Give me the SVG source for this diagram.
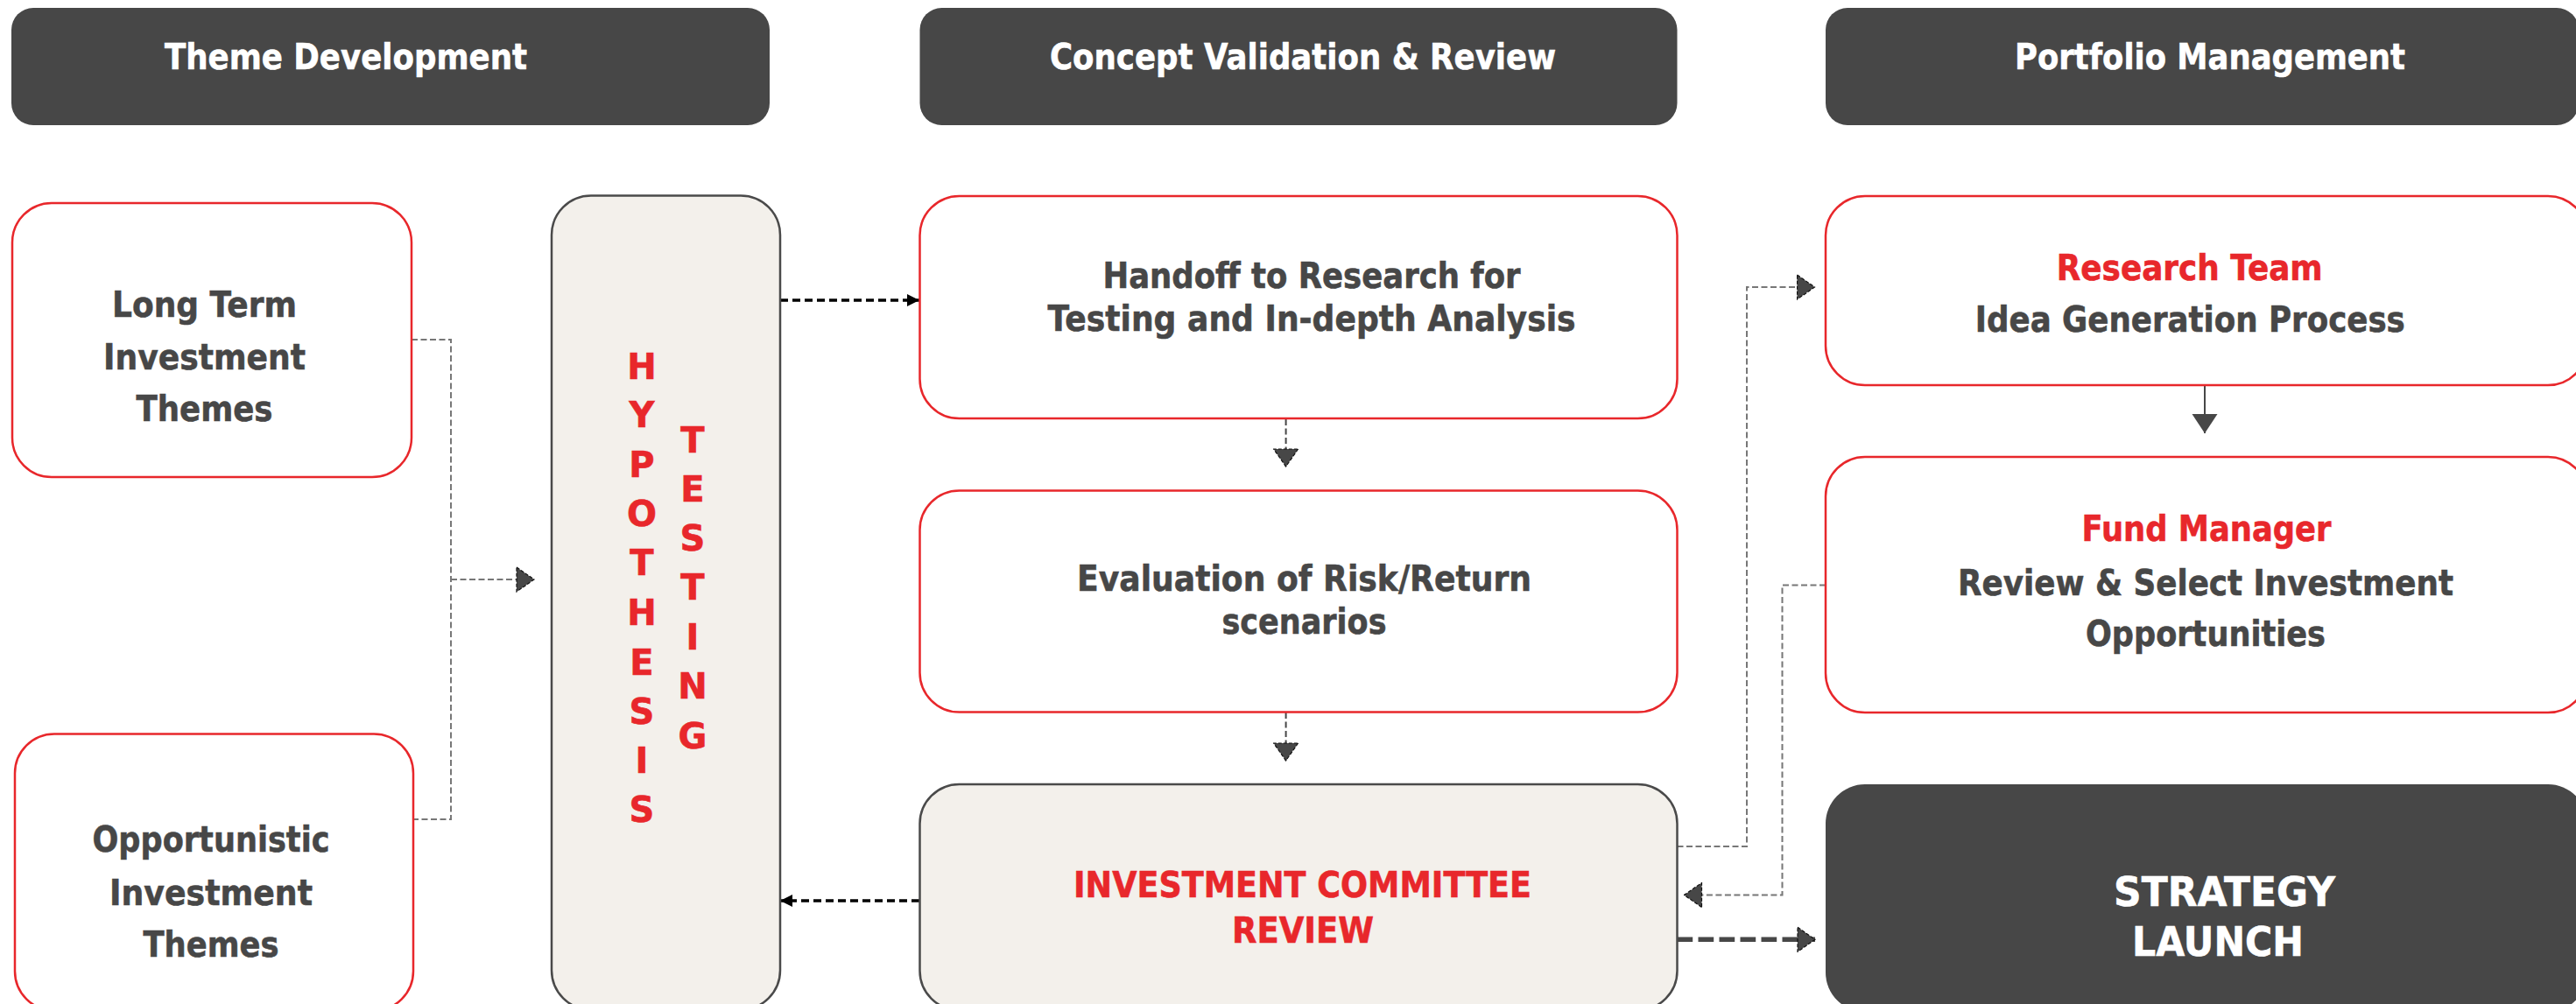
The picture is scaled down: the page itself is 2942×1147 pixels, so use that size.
<svg xmlns="http://www.w3.org/2000/svg" width="2942" height="1147" viewBox="0 0 2942 1147">
<style>
  .hdr { fill: #474747; }
  .hdrt { fill: #ffffff; stroke: #ffffff; stroke-width: 0.6; font-family: "DejaVu Sans", Verdana, sans-serif; font-weight: bold; font-size: 41px; }
  .rbox { fill: #ffffff; stroke: #E8272B; stroke-width: 2.5; }
  .pbox { fill: #F3F0EB; stroke: #4a4a4a; stroke-width: 2.5; }
  .dbox { fill: #474747; }
  .t { fill: #474747; stroke: #474747; stroke-width: 0.6; font-family: "DejaVu Sans", Verdana, sans-serif; font-weight: bold; font-size: 40px; text-anchor: middle; }
  .r { fill: #E8272B; stroke: #E8272B; }
  .w { fill: #ffffff; stroke: #ffffff; }
  .big { font-size: 47px; }
  .ltr { fill: #E8272B; stroke: #E8272B; stroke-width: 0.6; font-family: "DejaVu Sans", Verdana, sans-serif; font-weight: bold; font-size: 40px; text-anchor: middle; }
  .thin { fill: none; stroke: #777777; stroke-width: 2; stroke-dasharray: 7 3.5; }
  .blk { fill: none; stroke: #000000; stroke-width: 3.5; stroke-dasharray: 9 5; }
  .vd { fill: none; stroke: #474747; stroke-width: 2; stroke-dasharray: 7 3.5; }
  .solid { fill: none; stroke: #474747; stroke-width: 2; }
  .thick { fill: none; stroke: #474747; stroke-width: 5.5; stroke-dasharray: 17.7 6.3; }
</style>
<defs>
  <marker id="ahL" markerUnits="userSpaceOnUse" viewBox="0 0 22 30" refX="21" refY="15" markerWidth="22" markerHeight="30" orient="auto">
    <polygon points="1,1 21,15 1,29" fill="#474747" stroke="#111111" stroke-width="1.2" stroke-dasharray="4 2"/>
  </marker>
  <marker id="ahS" markerUnits="userSpaceOnUse" viewBox="0 0 16 16" refX="15" refY="8" markerWidth="16" markerHeight="16" orient="auto">
    <polygon points="1,1 15,8 1,15" fill="#000000"/>
  </marker>
  <marker id="ahD" markerUnits="userSpaceOnUse" viewBox="0 0 30 30" refX="22" refY="15" markerWidth="30" markerHeight="30" orient="auto">
    <polygon points="0,0.5 22,15 0,29.5" fill="#474747"/>
  </marker>
</defs>

<g id="header-theme">
  <rect class="hdr" x="13" y="9" width="866" height="134" rx="25"/>
  <text class="hdrt" x="395" y="79" text-anchor="middle" textLength="414" lengthAdjust="spacingAndGlyphs">Theme Development</text>
</g>
<g id="header-concept">
  <rect class="hdr" x="1050.5" y="9" width="865" height="134" rx="25"/>
  <text class="hdrt" x="1488" y="79" text-anchor="middle" textLength="578" lengthAdjust="spacingAndGlyphs">Concept Validation &amp; Review</text>
</g>
<g id="header-portfolio">
  <rect class="hdr" x="2085" y="9" width="860" height="134" rx="25"/>
  <text class="hdrt" x="2524" y="79" text-anchor="middle" textLength="446" lengthAdjust="spacingAndGlyphs">Portfolio Management</text>
</g>

<g id="connectors">
  <path class="thin" d="M470 388 H515 V936 H472"/>
  <path class="thin" d="M515 662 H610" marker-end="url(#ahL)"/>
  <path class="blk" d="M891 343 H1050" marker-end="url(#ahS)"/>
  <path class="vd" d="M1468.6 479 V533" marker-end="url(#ahL)"/>
  <path class="vd" d="M1468.6 814 V869" marker-end="url(#ahL)"/>
  <path class="blk" d="M1050 1029 H891" marker-end="url(#ahS)"/>
  <path class="thin" d="M1915.5 967 H1995 V328 H2072.5" marker-end="url(#ahL)"/>
  <path class="solid" d="M2518 440 V495" marker-end="url(#ahD)"/>
  <path class="thin" d="M2085 668.6 H2035.5 V1022.5 H1923.5" marker-end="url(#ahL)"/>
  <path class="thick" d="M1915.5 1073.3 H2073" marker-end="url(#ahL)"/>
</g>

<g id="long-term">
  <rect class="rbox" x="14" y="232" width="456" height="313" rx="45"/>
  <text class="t" x="233.5" y="362" textLength="211" lengthAdjust="spacingAndGlyphs">Long Term</text>
  <text class="t" x="233.5" y="422" textLength="231" lengthAdjust="spacingAndGlyphs">Investment</text>
  <text class="t" x="233.5" y="481" textLength="156" lengthAdjust="spacingAndGlyphs">Themes</text>
</g>

<g id="opportunistic">
  <rect class="rbox" x="17" y="838.5" width="455" height="316" rx="45"/>
  <text class="t" x="241" y="973" textLength="271" lengthAdjust="spacingAndGlyphs">Opportunistic</text>
  <text class="t" x="241" y="1033.5" textLength="232" lengthAdjust="spacingAndGlyphs">Investment</text>
  <text class="t" x="241" y="1092.5" textLength="155" lengthAdjust="spacingAndGlyphs">Themes</text>
</g>

<g id="hypothesis-testing">
  <rect class="pbox" x="630" y="223.5" width="261" height="930" rx="45"/>
  <text class="ltr" x="733" y="433">H</text>
  <text class="ltr" x="733" y="488">Y</text>
  <text class="ltr" x="733" y="545">P</text>
  <text class="ltr" x="733" y="601">O</text>
  <text class="ltr" x="733" y="657">T</text>
  <text class="ltr" x="733" y="714">H</text>
  <text class="ltr" x="733" y="771">E</text>
  <text class="ltr" x="733" y="827">S</text>
  <text class="ltr" x="733" y="883">I</text>
  <text class="ltr" x="733" y="939">S</text>
  <text class="ltr" x="791" y="517">T</text>
  <text class="ltr" x="791" y="573">E</text>
  <text class="ltr" x="791" y="629">S</text>
  <text class="ltr" x="791" y="685">T</text>
  <text class="ltr" x="791" y="742">I</text>
  <text class="ltr" x="791" y="798">N</text>
  <text class="ltr" x="791" y="855">G</text>
</g>

<g id="handoff">
  <rect class="rbox" x="1050.5" y="224" width="865" height="254" rx="45"/>
  <text class="t" x="1498" y="329" textLength="477" lengthAdjust="spacingAndGlyphs">Handoff to Research for</text>
  <text class="t" x="1498" y="378" textLength="603" lengthAdjust="spacingAndGlyphs">Testing and In-depth Analysis</text>
</g>

<g id="evaluation">
  <rect class="rbox" x="1050.5" y="560.5" width="865" height="253" rx="45"/>
  <text class="t" x="1489.5" y="675" textLength="519" lengthAdjust="spacingAndGlyphs">Evaluation of Risk/Return</text>
  <text class="t" x="1489.5" y="723.5" textLength="188" lengthAdjust="spacingAndGlyphs">scenarios</text>
</g>

<g id="committee">
  <rect class="pbox" x="1050.5" y="896" width="865" height="258" rx="45"/>
  <text class="t r" x="1487.5" y="1025" textLength="523" lengthAdjust="spacingAndGlyphs">INVESTMENT COMMITTEE</text>
  <text class="t r" x="1488" y="1076.5" textLength="162" lengthAdjust="spacingAndGlyphs">REVIEW</text>
</g>

<g id="research-team">
  <rect class="rbox" x="2085" y="224" width="870" height="216" rx="45"/>
  <text class="t r" x="2500.7" y="320" textLength="304" lengthAdjust="spacingAndGlyphs">Research Team</text>
  <text class="t" x="2501.3" y="379" textLength="491" lengthAdjust="spacingAndGlyphs">Idea Generation Process</text>
</g>

<g id="fund-manager">
  <rect class="rbox" x="2085" y="522" width="870" height="292" rx="45"/>
  <text class="t r" x="2520" y="618" textLength="285" lengthAdjust="spacingAndGlyphs">Fund Manager</text>
  <text class="t" x="2519" y="680" textLength="566" lengthAdjust="spacingAndGlyphs">Review &amp; Select Investment</text>
  <text class="t" x="2519" y="738" textLength="274" lengthAdjust="spacingAndGlyphs">Opportunities</text>
</g>

<g id="strategy-launch">
  <rect class="dbox" x="2085" y="896" width="870" height="260" rx="45"/>
  <text class="t w big" x="2540.5" y="1034.7" textLength="253" lengthAdjust="spacingAndGlyphs">STRATEGY</text>
  <text class="t w big" x="2533" y="1091.6" textLength="196" lengthAdjust="spacingAndGlyphs">LAUNCH</text>
</g>
</svg>
